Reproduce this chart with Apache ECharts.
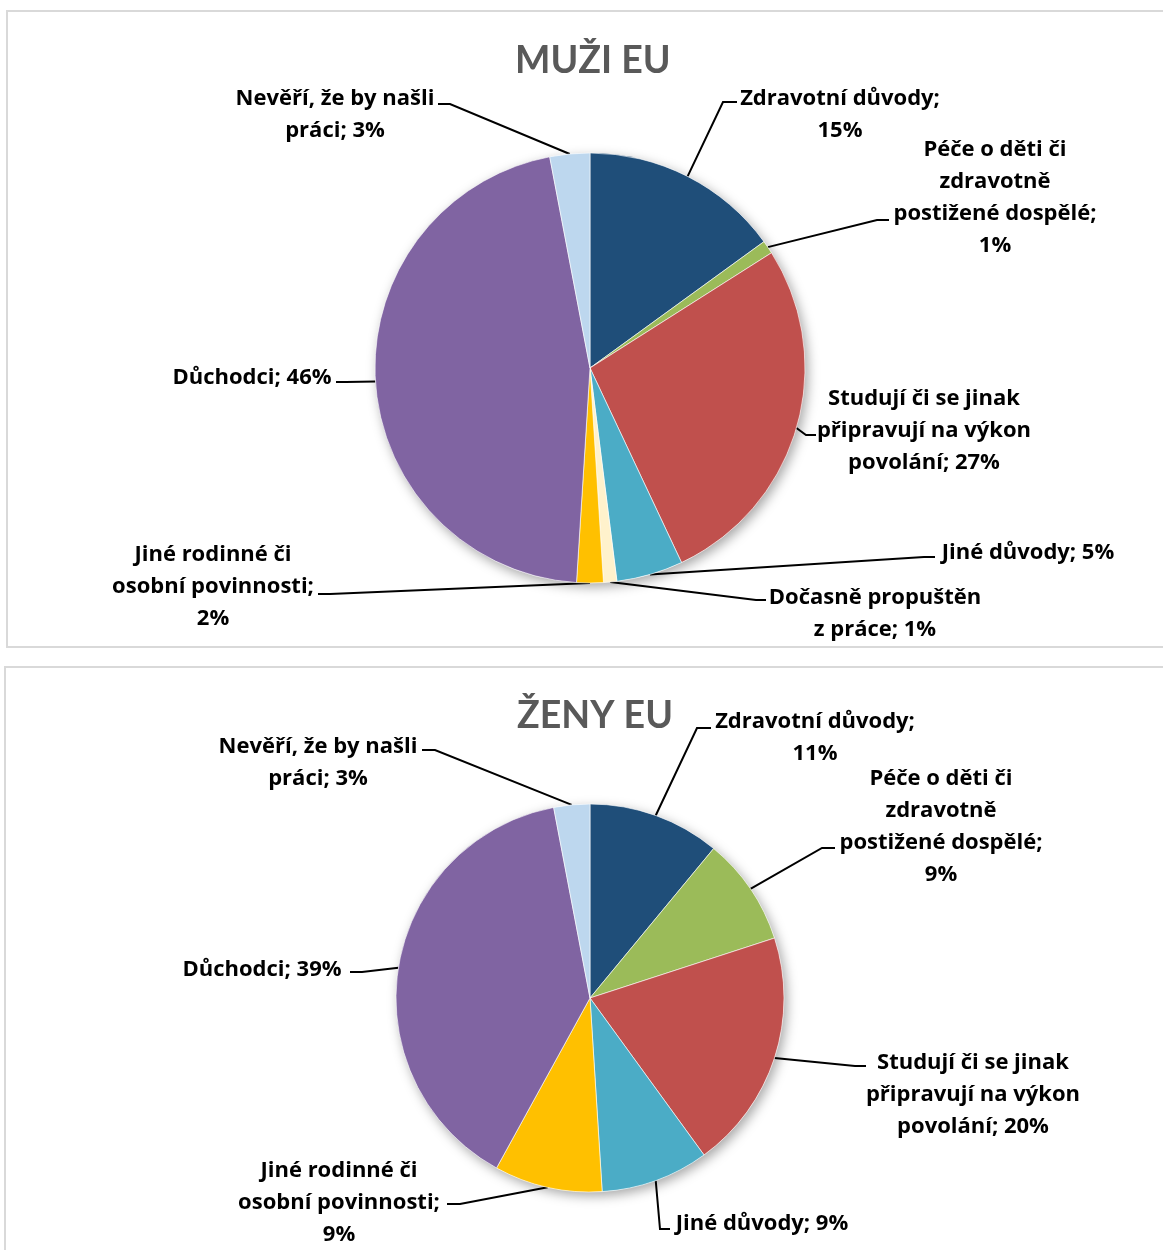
<!DOCTYPE html>
<html>
<head>
<meta charset="utf-8">
<script src="https://cdn.jsdelivr.net/npm/echarts@6/dist/echarts.min.js"></script>
<style>
  html, body { margin: 0; padding: 0; background: #fff; }
  #chart { width: 1163px; height: 1250px; }
</style>
</head>
<body>
<div id="chart"></div>
<script>
// Reasons for economic inactivity, EU, men and women (share in %)
const menCategories = [
  'Zdravotní důvody',
  'Péče o děti či\nzdravotně\npostižené dospělé',
  'Studují či se jinak\npřipravují na výkon\npovolání',
  'Jiné důvody',
  'Dočasně propuštěn\nz práce',
  'Jiné rodinné či\nosobní povinnosti',
  'Důchodci',
  'Nevěří, že by našli\npráci'
];
const menValues = [15, 1, 27, 5, 1, 2, 46, 3];

const womenCategories = [
  'Zdravotní důvody',
  'Péče o děti či\nzdravotně\npostižené dospělé',
  'Studují či se jinak\npřipravují na výkon\npovolání',
  'Jiné důvody',
  'Jiné rodinné či\nosobní povinnosti',
  'Důchodci',
  'Nevěří, že by našli\npráci'
];
const womenValues = [11, 9, 20, 9, 9, 39, 3];

const chartTitles = ['MUŽI EU', 'ŽENY EU'];

// Slice colour per category
const categoryColors = {
  'Zdravotní důvody': '#1F4E79',
  'Péče o děti či\nzdravotně\npostižené dospělé': '#9BBB59',
  'Studují či se jinak\npřipravují na výkon\npovolání': '#C0504D',
  'Jiné důvody': '#4BACC6',
  'Dočasně propuštěn\nz práce': '#FFF2CC',
  'Jiné rodinné či\nosobní povinnosti': '#FFC000',
  'Důchodci': '#8064A2',
  'Nevěří, že by našli\npráci': '#BDD7EE'
};

// Label placement: text block centre x / top y, leader elbow and end, separator before the value
const menLabelLayout = [
  { x: 840, y: 83,  ex: 723, ey: 102, lx: 737, ly: 102, sep: '\n' },
  { x: 995, y: 134, ex: 877, ey: 220, lx: 889, ly: 220, sep: '\n' },
  { x: 924, y: 383, ex: 806, ey: 435, lx: 816, ly: 435, sep: ' ' },
  { x: 1028, y: 537, ex: 924, ey: 557, lx: 935, ly: 557, sep: ' ' },
  { x: 875, y: 582, ex: 756, ey: 600, lx: 766, ly: 600, sep: ' ' },
  { x: 213, y: 539, ex: 330, ey: 594, lx: 318, ly: 594, sep: '\n' },
  { x: 252, y: 362, ex: 346, ey: 382, lx: 336, ly: 382, sep: ' ' },
  { x: 335, y: 83,  ex: 450, ey: 104, lx: 438, ly: 104, sep: ' ' }
];
const womenLabelLayout = [
  { x: 815, y: 706,  ex: 697, ey: 728,  lx: 711, ly: 728,  sep: '\n' },
  { x: 941, y: 763,  ex: 822, ey: 848,  lx: 835, ly: 848,  sep: '\n' },
  { x: 973, y: 1047, ex: 855, ey: 1066, lx: 866, ly: 1066, sep: ' ' },
  { x: 762, y: 1208, ex: 660, ey: 1229, lx: 670, ly: 1229, sep: ' ' },
  { x: 339, y: 1155, ex: 460, ey: 1204, lx: 447, ly: 1204, sep: '\n' },
  { x: 262, y: 954,  ex: 362, ey: 972,  lx: 350, ly: 972,  sep: ' ' },
  { x: 318, y: 731,  ex: 435, ey: 750,  lx: 422, ly: 750,  sep: ' ' }
];

const LABEL_FONT = '"Open Sans", Lato, sans-serif';
const TITLE_FONT = 'Lato, "Open Sans", sans-serif';

function pieSeries(categories, values, layout, center, radius) {
  return {
    type: 'pie',
    center: center,
    radius: radius,
    startAngle: 90,
    clockwise: true,
    avoidLabelOverlap: false,
    z: 3,
    data: categories.map((name, i) => ({
      name: name,
      value: values[i],
      itemStyle: { color: categoryColors[name] }
    })),
    itemStyle: { borderColor: '#ffffff', borderWidth: 0.6 },
    label: {
      show: true,
      position: 'outside',
      color: '#000',
      fontFamily: LABEL_FONT,
      fontWeight: 'bold',
      fontSize: 22,
      lineHeight: 32,
      align: 'center',
      formatter: p => p.name + ';' + layout[p.dataIndex].sep + p.value + '%'
    },
    labelLine: {
      show: true,
      length: 10,
      length2: 10,
      lineStyle: { color: '#000', width: 2 }
    },
    labelLayout: function (params) {
      const l = layout[params.dataIndex];
      const start = params.labelLinePoints ? params.labelLinePoints[0] : [l.ex, l.ey];
      return {
        x: l.x,
        y: l.y,
        align: 'center',
        verticalAlign: 'top',
        labelLinePoints: [start, [l.ex, l.ey], [l.lx, l.ly]]
      };
    },
    emphasis: { disabled: true }
  };
}

// White disc under each pie carrying the soft drop shadow
function shadowSeries(center, radius) {
  return {
    type: 'pie',
    center: center,
    radius: radius,
    silent: true,
    z: 2,
    label: { show: false },
    labelLine: { show: false },
    data: [{ value: 1 }],
    itemStyle: {
      color: '#ffffff',
      shadowBlur: 12,
      shadowColor: 'rgba(0,0,0,0.35)',
      shadowOffsetX: 3,
      shadowOffsetY: 4
    },
    emphasis: { disabled: true }
  };
}

const chart = echarts.init(document.getElementById('chart'), null, { renderer: 'canvas' });

chart.setOption({
  backgroundColor: '#ffffff',
  animation: false,
  title: [
    {
      text: chartTitles[0],
      left: 515, top: 42, padding: 0,
      textStyle: { fontFamily: TITLE_FONT, fontWeight: 'bold', fontSize: 37.5, color: '#595959' }
    },
    {
      text: chartTitles[1],
      left: 517, top: 697, padding: 0,
      textStyle: { fontFamily: TITLE_FONT, fontWeight: 'bold', fontSize: 37.5, color: '#595959' }
    }
  ],
  graphic: [
    {
      type: 'rect', silent: true, z: 0,
      shape: { x: 7, y: 11, width: 1170, height: 636 },
      style: { fill: 'none', stroke: '#D9D9D9', lineWidth: 2 }
    },
    {
      type: 'rect', silent: true, z: 0,
      shape: { x: 5, y: 667, width: 1170, height: 600 },
      style: { fill: 'none', stroke: '#D9D9D9', lineWidth: 2 }
    }
  ],
  series: [
    shadowSeries([590, 368], 215),
    pieSeries(menCategories, menValues, menLabelLayout, [590, 368], 215),
    shadowSeries([590, 998], 194),
    pieSeries(womenCategories, womenValues, womenLabelLayout, [590, 998], 194)
  ]
});
</script>
</body>
</html>
